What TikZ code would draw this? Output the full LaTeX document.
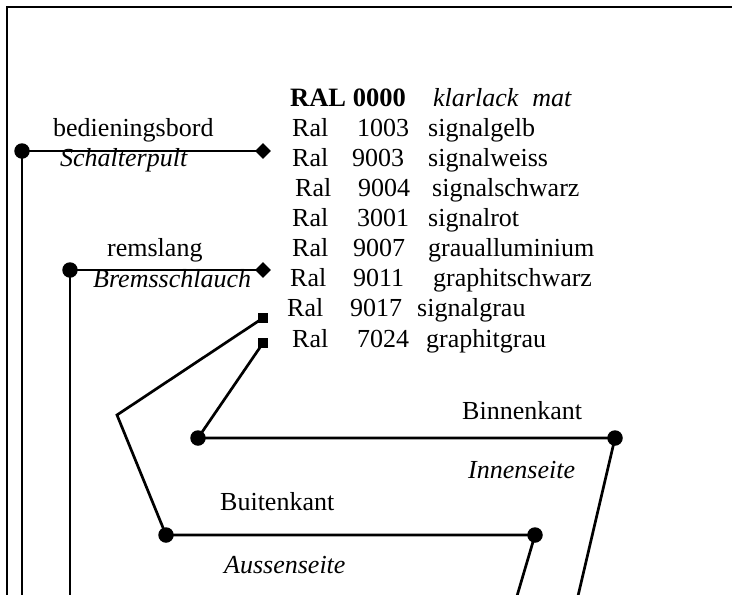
\documentclass[tikz,border=0pt]{standalone}
\usepackage{fontspec}
\setmainfont{Liberation Serif}
\usetikzlibrary{shapes.geometric}
\tikzset{
  ln/.style={line width=2.7pt},
  frm/.style={line width=2.8pt},
  dot/.style={circle,fill=black,inner sep=0pt,minimum size=15.5pt},
  dia/.style={diamond,fill=black,inner sep=0pt,minimum size=16pt},
  sq/.style={rectangle,fill=black,inner sep=0pt,minimum size=10pt},
  txt/.style={anchor=base west,inner sep=0pt,font=\fontsize{26}{30}\selectfont},
  itx/.style={txt,font=\fontsize{26}{30}\selectfont\itshape},
  btx/.style={txt,font=\fontsize{26.5}{30}\selectfont\bfseries}
}
\begin{document}
\begin{tikzpicture}[x=1pt,y=-1pt]
\useasboundingbox (0,0) rectangle (732,595);
% frame
\coordinate (ftl) at (7,7);
\coordinate (ftr) at (733,7);
\coordinate (fbl) at (7,596);
\draw[frm] (ftr) -- (ftl) -- (fbl);
% nodes
\node[dot] (c1) at (22,151) {};
\node[dia] (d1) at (263,151) {};
\node[dot] (c2) at (70,270) {};
\node[dia] (d2) at (263,270) {};
\node[sq] (s1) at (263,318) {};
\node[sq] (s2) at (263,343) {};
\coordinate (v) at (117,415);
\node[dot] (c3) at (198,438) {};
\node[dot] (c4) at (615,438) {};
\node[dot] (c5) at (166,535) {};
\node[dot] (c6) at (535,535) {};
\coordinate (e1) at (22,596);
\coordinate (e2) at (70,596);
\coordinate (e4) at (578,596);
\coordinate (e6) at (517,596);
% connectors
\draw[ln] (c1.center) -- (d1.center);
\draw[ln] (c1.center) -- (e1);
\draw[ln] (c2.center) -- (d2.center);
\draw[ln] (c2.center) -- (e2);
\draw[ln] (s1.center) -- (v) -- (c5.center);
\draw[ln] (s2.center) -- (c3.center);
\draw[ln] (c3.center) -- (c4.center) -- (e4);
\draw[ln] (c5.center) -- (c6.center) -- (e6);
% left labels
\node[txt] (lb1) at (53,136) {bedieningsbord};
\node[itx] (lb2) at (60,166) {Schalterpult};
\node[txt] (lb3) at (107,256) {remslang};
\node[itx] (lb4) at (93,287) {Bremsschlauch};
% table
\node[btx] (t0a) at (290,106) {RAL 0000};
\node[itx] (t0b) at (433,106) {klarlack\hspace{14pt}mat};
\node[txt] (t1a) at (292,136) {Ral};
\node[txt] (t1b) at (357,136) {1003};
\node[txt] (t1c) at (428,136) {signalgelb};
\node[txt] (t2a) at (292,166) {Ral};
\node[txt] (t2b) at (352,166) {9003};
\node[txt] (t2c) at (428,166) {signalweiss};
\node[txt] (t3a) at (295,196) {Ral};
\node[txt] (t3b) at (358,196) {9004};
\node[txt] (t3c) at (432,196) {signalschwarz};
\node[txt] (t4a) at (292,226) {Ral};
\node[txt] (t4b) at (357,226) {3001};
\node[txt] (t4c) at (428,226) {signalrot};
\node[txt] (t5a) at (292,256) {Ral};
\node[txt] (t5b) at (353,256) {9007};
\node[txt] (t5c) at (428,256) {graualluminium};
\node[txt] (t6a) at (290,286) {Ral};
\node[txt] (t6b) at (353,286) {9011};
\node[txt] (t6c) at (433,286) {graphitschwarz};
\node[txt] (t7a) at (287,316) {Ral};
\node[txt] (t7b) at (350,316) {9017};
\node[txt] (t7c) at (417,316) {signalgrau};
\node[txt] (t8a) at (292,347) {Ral};
\node[txt] (t8b) at (357,347) {7024};
\node[txt] (t8c) at (426,347) {graphitgrau};
% lower labels
\node[txt] (bk) at (462,419) {Binnenkant};
\node[itx] (is) at (468,478) {Innenseite};
\node[txt] (uk) at (220,510) {Buitenkant};
\node[itx] (as) at (224,573) {Aussenseite};
\end{tikzpicture}
\end{document}
